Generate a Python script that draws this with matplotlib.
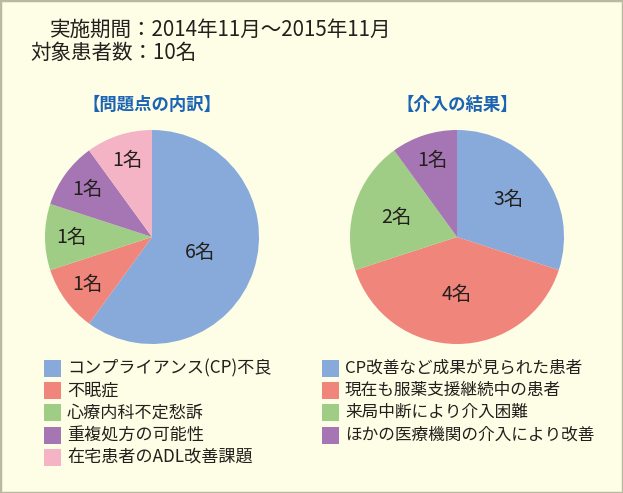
import matplotlib
matplotlib.use("Agg")
import matplotlib.pyplot as plt
from matplotlib.patches import Rectangle
import numpy as np

plt.rcParams['font.family'] = ['Noto Sans CJK JP', 'DejaVu Sans']

# ---- data ----
header_lines = ["実施期間：2014年11月～2015年11月", "対象患者数：10名"]
left_title = "【問題点の内訳】"
left_labels = ["コンプライアンス(CP)不良", "不眠症", "心療内科不定愁訴", "重複処方の可能性", "在宅患者のADL改善課題"]
left_values = [6, 1, 1, 1, 1]
right_title = "【介入の結果】"
right_labels = ["CP改善など成果が見られた患者", "現在も服薬支援継続中の患者", "来局中断により介入困難", "ほかの医療機関の介入により改善"]
right_values = [3, 4, 2, 1]
unit = "名"

# ---- style ----
BLUE, RED, GREEN, PURPLE, PINK = "#88aada", "#f0857c", "#9fcd86", "#a676b4", "#f5b4c5"
left_colors = [BLUE, RED, GREEN, PURPLE, PINK]
right_colors = [BLUE, RED, GREEN, PURPLE]
BG = "#fefde6"
TITLE_BLUE = "#1b64b3"
TEXT = "#231f1c"

W, H = 623, 493
fig = plt.figure(figsize=(W / 100, H / 100), dpi=100, facecolor=BG)
fig.patches.append(Rectangle((0, 0), 1, 1, transform=fig.transFigure, fill=False,
                             edgecolor="#b9b9a2", linewidth=2.5))

fig.text(50 / W, 1 - 30 / H, header_lines[0], fontsize=14.8, color=TEXT, va="center", ha="left")
fig.text(30 / W, 1 - 53 / H, header_lines[1], fontsize=14.8, color=TEXT, va="center", ha="left")


def draw_pie(cx, cy, r, values, colors, title):
    ax = fig.add_axes([(cx - r) / W, 1 - (cy + r) / H, 2 * r / W, 2 * r / H])
    ax.set_facecolor("none")
    wedges, _ = ax.pie(values, colors=colors, startangle=90, counterclock=False,
                       radius=1, wedgeprops=dict(linewidth=0))
    total = sum(values)
    for w, v in zip(wedges, values):
        ang = np.deg2rad((w.theta1 + w.theta2) / 2)
        frac = v / total
        d = 0.75 if frac <= 0.1 else (0.6 if frac <= 0.3 else 0.54)
        if frac > 0.5:
            d = 0.47
        ax.text(d * np.cos(ang), d * np.sin(ang), f"{v}{unit}", ha="center", va="center",
                fontsize=14, color=TEXT)
    ax.set_xlim(-1, 1)
    ax.set_ylim(-1, 1)
    ax.set_aspect("equal")
    ax.axis("off")
    fig.text(cx / W, 1 - 105 / H, title, fontsize=12.5, fontweight="bold", color=TITLE_BLUE,
             ha="center", va="center")
    return wedges


lw = draw_pie(152, 237, 107, left_values, left_colors, left_title)
rw = draw_pie(457, 237, 107, right_values, right_colors, right_title)


def draw_legend(x0, y0, labels, colors, fs):
    for i, (lab, col) in enumerate(zip(labels, colors)):
        y = y0 + i * 22.4
        fig.patches.append(Rectangle((x0 / W, 1 - (y + 8.5) / H), 17 / W, 17 / H,
                                     transform=fig.transFigure, facecolor=col, edgecolor="none"))
        fig.text((x0 + 23) / W, 1 - y / H, lab, fontsize=fs, color=TEXT, ha="left", va="center")


draw_legend(44, 368, left_labels, left_colors, 12.3)
draw_legend(322, 368, right_labels, right_colors, 12)

fig.savefig("out.png", dpi=100, facecolor=BG)
